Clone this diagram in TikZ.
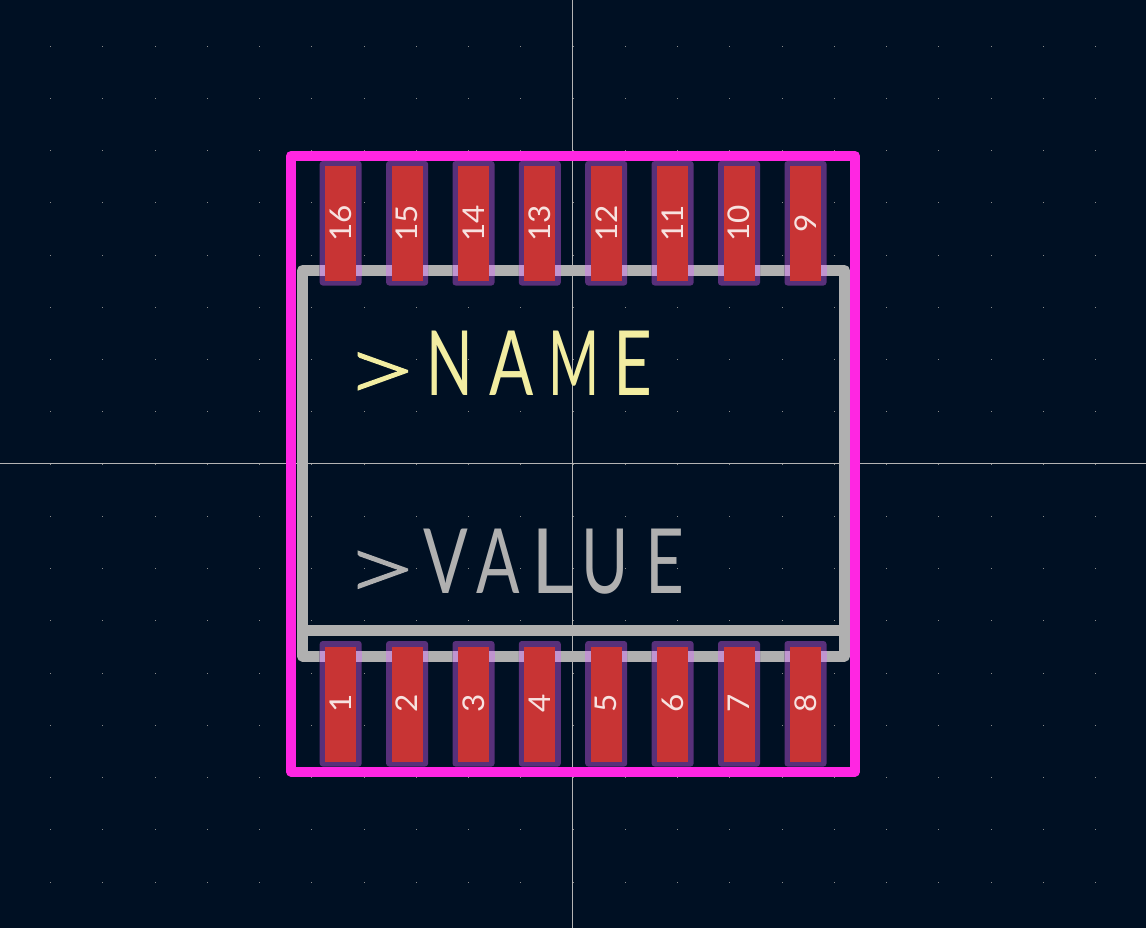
\documentclass[tikz,border=0pt]{standalone}
\usepackage{fontspec}
\usepackage{graphicx}
\setmainfont{Lato}
\newfontfamily\bigfont[FakeStretch=0.68]{Lato}
\newfontfamily\numfont[FakeStretch=1.05]{Lato}
\newfontfamily\gtfont[FakeStretch=0.68,FakeBold=1.2]{Lato Light}
\definecolor{bgc}{HTML}{001023}
\definecolor{gridc}{HTML}{8C8C8C}
\definecolor{axisc}{HTML}{B4B4B4}
\definecolor{silkc}{HTML}{B0B0B0}
\definecolor{crtc}{HTML}{FF26E2}
\definecolor{padr}{HTML}{C83434}
\definecolor{padm}{HTML}{58307A}
\definecolor{padl}{HTML}{C094D0}
\definecolor{namec}{HTML}{F2EDA1}
\definecolor{numc}{HTML}{F7E2E0}
\tikzset{
  silk/.style={draw=silkc,line width=11pt,line join=round,line cap=round},
  court/.style={draw=crtc,line width=10pt,line join=round,line cap=round},
  padring/.style={fill=padm,rounded corners=3pt},
  padcore/.style={fill=padr},
  padnum/.style={text=numc,rotate=90,inner sep=0pt,font=\numfont\fontsize{30}{30}\selectfont},
  bigtext/.style={anchor=base west,inner sep=0pt,font=\bigfont\fontsize{90}{90}\selectfont}
}
\newcommand{\padtop}[2]{%
  \fill[padring] (#1-21,161) rectangle (#1+21,285.5);
  \fill[padl] (#1-21,265) rectangle (#1+21,276);
  \fill[padcore] (#1-15.5,166) rectangle (#1+15.5,281);
  \node[padnum] (p#2) at (#1,223.5) {#2};
}
\newcommand{\padbot}[2]{%
  \fill[padring] (#1-21,641) rectangle (#1+21,766.5);
  \fill[padl] (#1-21,651) rectangle (#1+21,662);
  \fill[padcore] (#1-15.5,647) rectangle (#1+15.5,762);
  \node[padnum] (p#2) at (#1,703) {#2};
}
\newcommand{\ltr}[3]{\makebox[#1pt][l]{\scalebox{#2}[1]{#3}}}
\newcommand{\gtsign}[1]{\makebox[#1pt][l]{\hspace{-8.5pt}\raisebox{-6.5pt}{\scalebox{2.1}[1.0]{\gtfont >}}}}
\begin{document}
\begin{tikzpicture}[x=1pt,y=-1pt]
\useasboundingbox (0,0) rectangle (1146,928);
\fill[bgc] (0,0) rectangle (1146,928);
\foreach \i in {-10,...,10}{
  \foreach \j in {-8,...,8}{
    \pgfmathsetmacro{\gx}{round(572.5+52.25*\i)}
    \pgfmathsetmacro{\gy}{round(463.5+52.25*\j)}
    \fill[gridc] (\gx,\gy) rectangle (\gx+1.2,\gy+1.2);
  }
}
\fill[axisc] (572,0) rectangle (573,928);
\fill[axisc] (0,463) rectangle (1146,464);
\draw[silk] (302.5,630.5) -- (844.5,630.5);
\draw[silk] (302.5,656) -- (302.5,270.5) -- (844.5,270.5) -- (844.5,656) -- cycle;
\draw[court] (291,156) rectangle (855,771.5);
\padtop{340.7}{16}
\padtop{407.1}{15}
\padtop{473.5}{14}
\padtop{539.8}{13}
\padtop{606.2}{12}
\padtop{672.6}{11}
\padtop{739}{10}
\padtop{805.5}{9}
\padbot{340.7}{1}
\padbot{407.1}{2}
\padbot{473.5}{3}
\padbot{539.8}{4}
\padbot{606.2}{5}
\padbot{672.6}{6}
\padbot{739}{7}
\padbot{805.5}{8}
\node[bigtext,text=namec] (refname) at (352,395) {\gtsign{74}\ltr{63}{1}{N}\ltr{59}{1.07}{A}\ltr{65}{0.9}{M}\ltr{40}{1.1}{E}};
\node[bigtext,text=silkc] (refvalue) at (352,593.5) {\gtsign{71}\ltr{53}{1.08}{V}\ltr{55}{1.05}{A}\ltr{50}{1.35}{L}\ltr{64}{1.05}{U}\ltr{40}{1.1}{E}};
\end{tikzpicture}
\end{document}
